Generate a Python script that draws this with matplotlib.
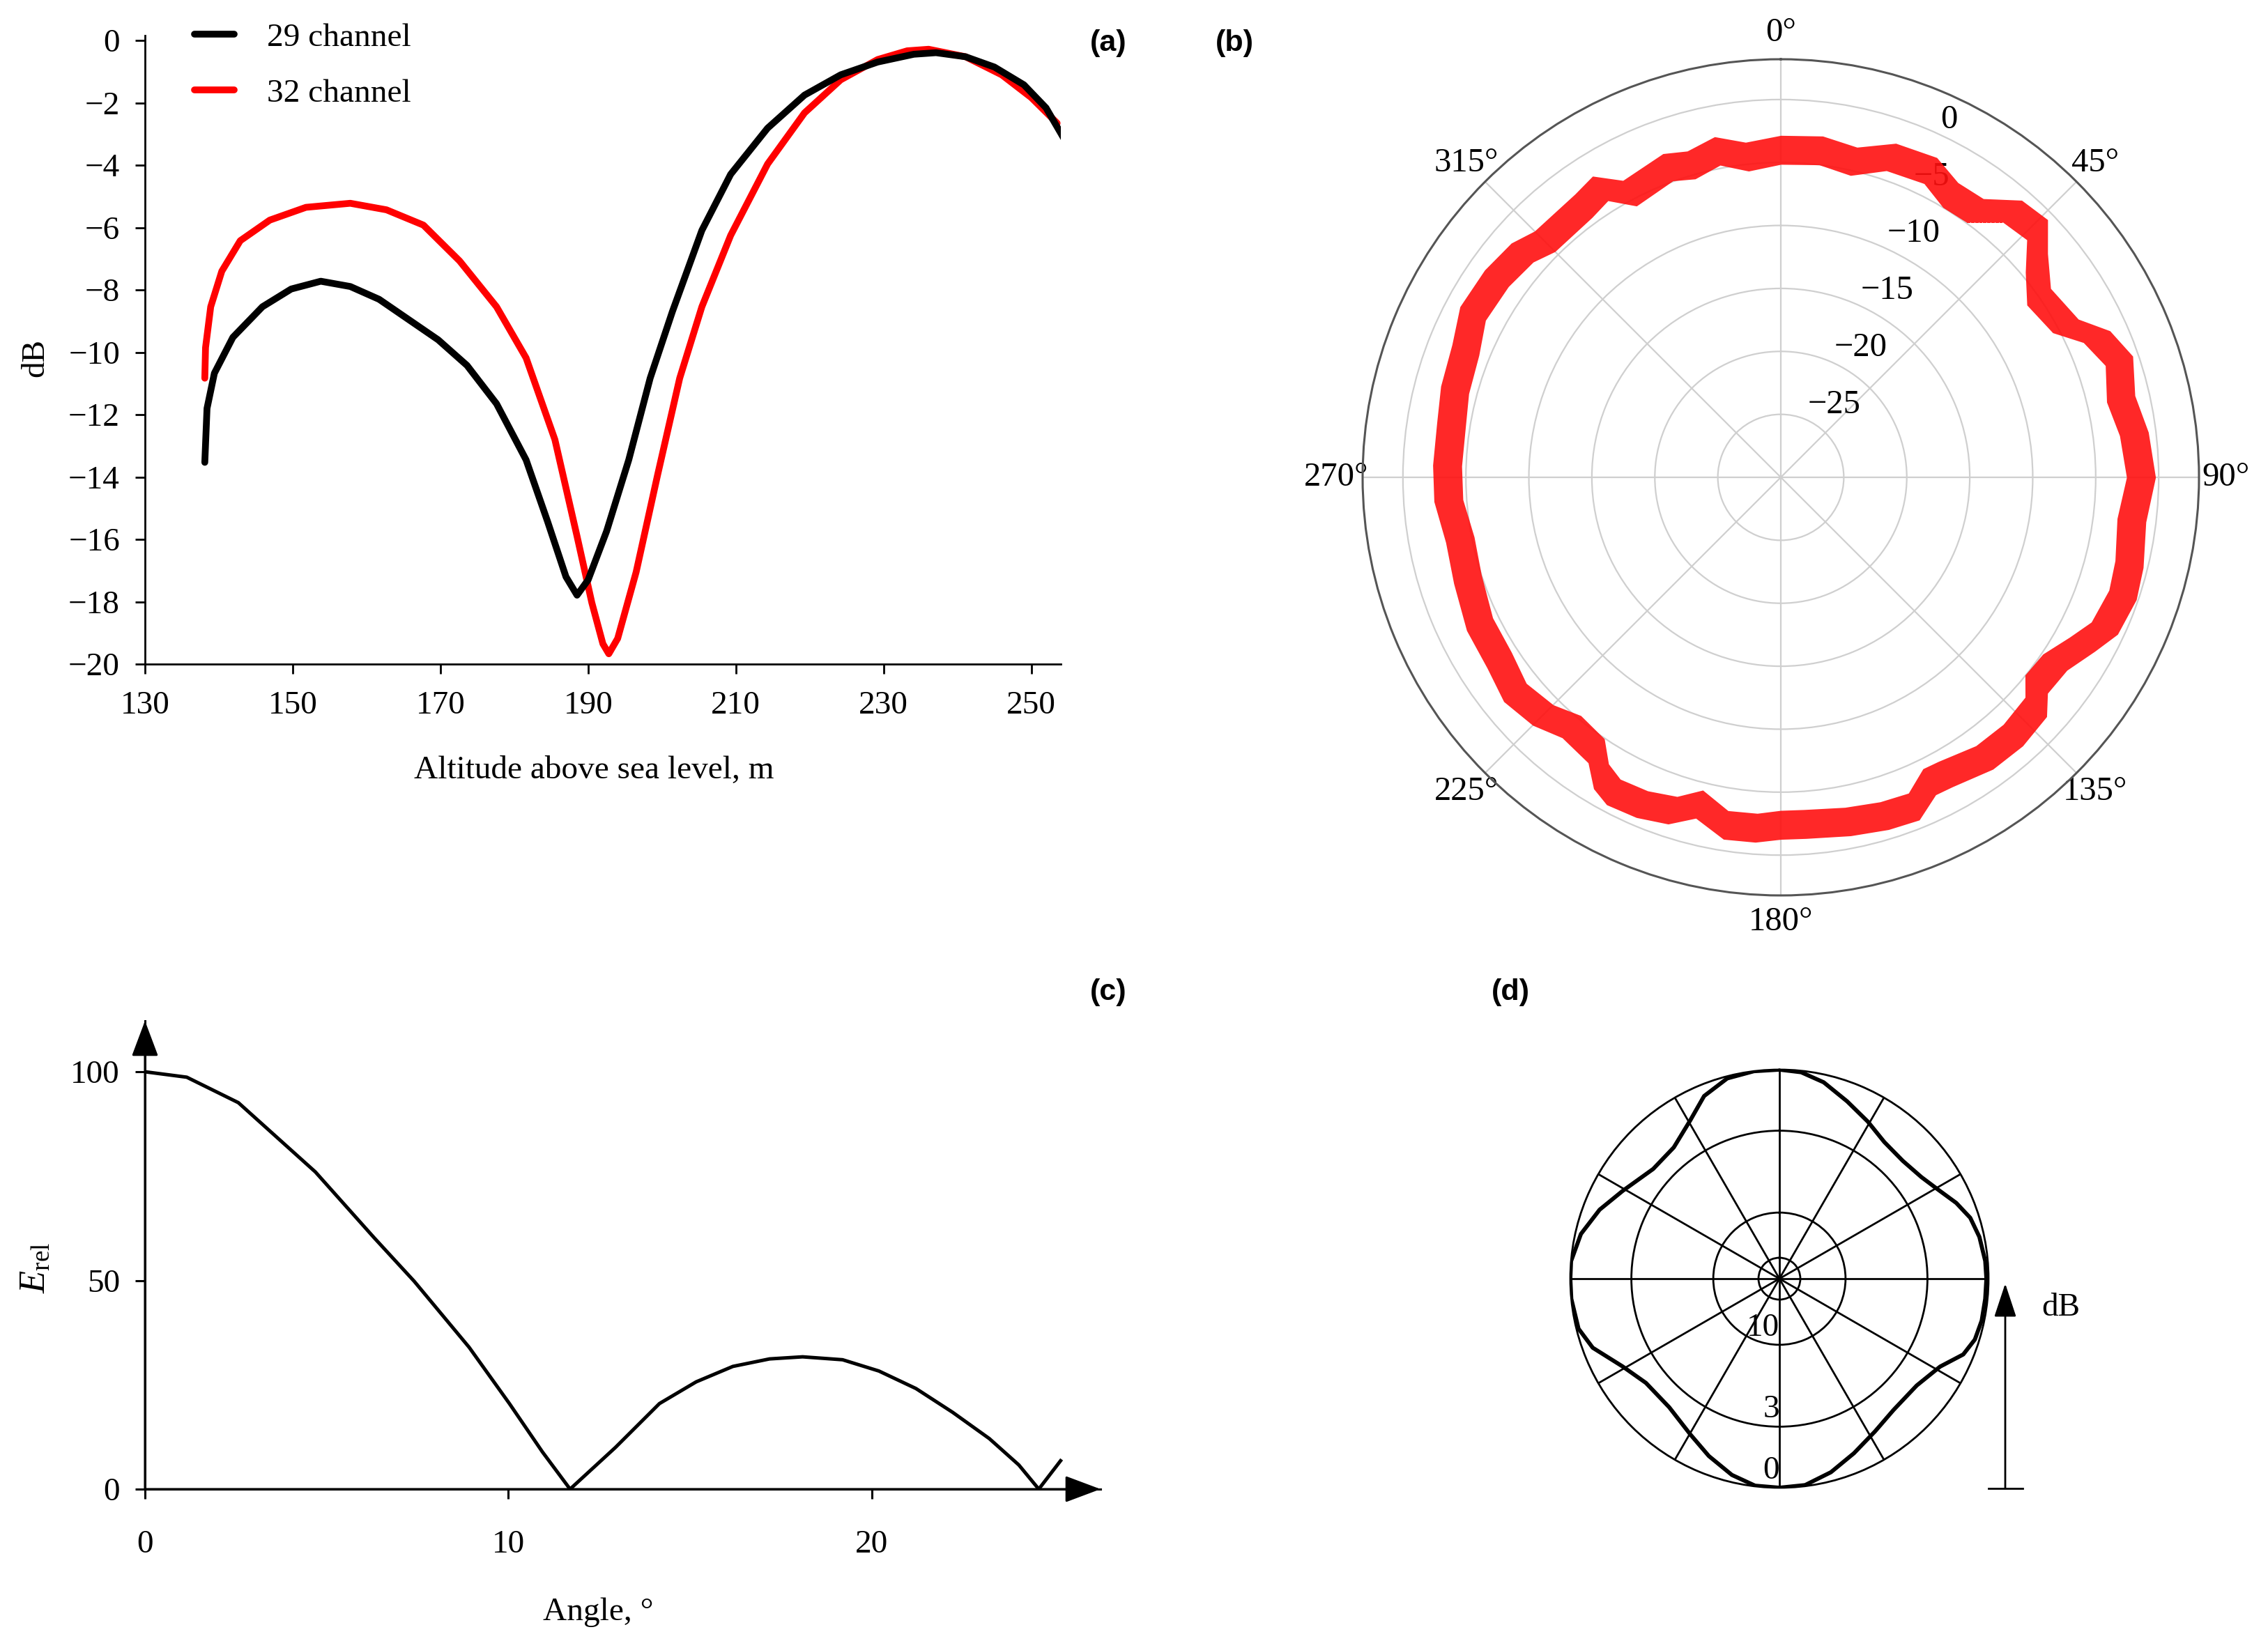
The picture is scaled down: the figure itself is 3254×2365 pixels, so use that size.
import numpy as np
import matplotlib
matplotlib.use('Agg')
import matplotlib.pyplot as plt

plt.rcParams['font.family'] = ['Liberation Serif', 'DejaVu Serif']
plt.rcParams['mathtext.fontset'] = 'custom'
plt.rcParams['mathtext.rm'] = 'Liberation Serif'
plt.rcParams['mathtext.it'] = 'Liberation Serif:italic'
plt.rcParams['mathtext.bf'] = 'Liberation Serif:bold'
plt.rcParams['axes.unicode_minus'] = True

# ---------------- data ----------------
# (a) signal level vs altitude
alt_29 = [138.1, 138.4, 139.4, 141.9, 145.9, 149.8, 153.8, 157.8, 161.7, 165.7, 169.7,
          173.6, 177.6, 181.6, 184.5, 187.0, 188.5, 190.0, 192.5, 195.5, 198.4, 201.4,
          205.4, 209.3, 214.3, 219.3, 224.2, 229.2, 234.1, 237.1, 241.1, 245.0, 249.0,
          252.0, 254.8]
db_29 = [-13.53, -11.8, -10.67, -9.52, -8.54, -7.97, -7.72, -7.89, -8.3, -8.95, -9.6,
         -10.42, -11.65, -13.45, -15.42, -17.2, -17.79, -17.3, -15.74, -13.45, -10.83, -8.7,
         -6.09, -4.29, -2.81, -1.75, -1.1, -0.69, -0.44, -0.39, -0.52, -0.85, -1.42,
         -2.16, -3.3]
alt_32 = [138.1, 138.2, 138.9, 140.4, 142.9, 146.9, 151.8, 157.8, 162.7, 167.7, 172.6,
          177.6, 181.6, 185.5, 188.5, 190.5, 192.0, 192.8, 194.0, 196.5, 199.4, 202.4,
          205.4, 209.3, 214.3, 219.3, 224.2, 229.2, 233.2, 236.1, 241.1, 246.0, 250.0,
          253.5]
db_32 = [-10.83, -9.85, -8.54, -7.4, -6.42, -5.76, -5.35, -5.22, -5.43, -5.92, -7.07,
         -8.54, -10.18, -12.8, -15.9, -18.03, -19.35, -19.67, -19.18, -17.05, -13.94, -10.83,
         -8.54, -6.25, -3.96, -2.32, -1.26, -0.61, -0.33, -0.28, -0.52, -1.1, -1.83,
         -2.65]
a_xticks = [130, 150, 170, 190, 210, 230, 250]
a_yticks = [0, -2, -4, -6, -8, -10, -12, -14, -16, -18, -20]

# (b) measured azimuth pattern (band centre, dB)
az_deg = [0, 7, 13, 19, 26, 31, 36, 41, 46, 50, 55, 62, 66, 71, 77, 83, 90, 97, 104, 109,
          115, 119, 124, 129, 132, 138, 144, 151, 154, 158, 163, 169, 176, 180, 184, 189,
          194, 198, 203, 208, 211, 214, 220, 225, 231, 237, 244, 252, 259, 266, 272, 279,
          285, 292, 298, 305, 311, 315, 324, 328, 332, 340, 344, 349, 354, 360]
level_db = [-4.0, -3.85, -4.25, -3.1, -2.9, -3.85, -3.8, -2.0, -1.7, -3.5, -5.0, -4.4, -2.55,
            -1.6, -2.3, -1.75, -1.4, -1.95, -1.5, -1.3, -1.65, -2.65, -3.75, -3.9, -2.75,
            -2.45, -2.5, -3.05, -3.1, -1.8, -1.9, -2.15, -2.4, -2.4, -2.1, -2.05, -3.25,
            -2.2, -1.8, -1.7, -2.3, -3.8, -4.15, -3.3, -2.85, -3.35, -3.4, -3.85, -4.05,
            -3.55, -3.5, -3.5, -3.2, -3.0, -2.3, -2.45, -2.8, -3.5, -3.35, -2.95, -4.45,
            -3.8, -4.2, -3.6, -4.4, -4.0]
band_half_width_db = 1.15
b_rings = [-25, -20, -15, -10, -5, 0]
b_theta_ticks = [0, 45, 90, 135, 180, 225, 270, 315]

# (c) relative field vs angle
angle_c = [0, 1.15, 2.57, 4.69, 6.3, 7.41, 8.92, 10.03, 10.94, 11.7, 12.95, 14.16, 15.17,
           16.18, 17.19, 18.1, 19.2, 20.2, 21.22, 22.23, 23.24, 24.05, 24.6, 25.2]
erel_c = [100, 98.7, 92.6, 76.0, 60.3, 49.8, 34.0, 20.5, 8.9, 0, 10.0, 20.5, 25.7,
          29.4, 31.2, 31.7, 31.0, 28.3, 24.1, 18.4, 12.1, 5.8, 0, 6.8]
c_xticks = [0, 10, 20]
c_yticks = [0, 50, 100]

# (d) antenna pattern (relative amplitude)
pattern_deg = [0, 6, 12.7, 20.9, 29.4, 37.5, 46.3, 54.4, 60.5, 66.8, 72.3, 78.2, 85.1, 90,
               95.6, 101.7, 107.3, 112.4, 118.7, 127.9, 139, 148, 156.9, 165.1, 172.9, 180,
               186.7, 193.6, 201.7, 209.8, 220.6, 232, 240.7, 249.7, 256, 264.5, 270, 274.8,
               282.7, 291, 299.3, 311, 321.2, 330.6, 337.6, 345.4, 353, 360]
pattern_amp = [1.0, 0.993, 0.963, 0.908, 0.862, 0.824, 0.816, 0.835, 0.869, 0.92, 0.958,
               0.977, 0.988, 0.99, 0.989, 0.988, 0.979, 0.951, 0.876, 0.832, 0.832, 0.862,
               0.908, 0.958, 0.995, 1.0, 0.997, 0.966, 0.913, 0.858, 0.81, 0.81, 0.859, 0.952,
               0.99, 1.0, 1.0, 1.0, 0.973, 0.921, 0.859, 0.8, 0.806, 0.869, 0.945, 0.99, 1.0,
               1.0]
d_ring_db = [20, 10, 3]
d_ring_labels = ['10', '3', '0']
d_label_db = [10, 3, 0]

# ---------------- figure ----------------
W, H = 3255, 2365
fig = plt.figure(figsize=(W / 100, H / 100), dpi=100, facecolor='white')

def box(x0, y0, x1, y1):
    return [x0 / W, 1 - y1 / H, (x1 - x0) / W, (y1 - y0) / H]

FS = 34
FSB = 35
FS2 = 34

# ---- (a)
axa = fig.add_axes(box(208, 51, 1522, 953))
axa.plot(alt_32, db_32, color='#ff0000', lw=7, solid_capstyle='round',
         solid_joinstyle='round', label='32 channel', zorder=2)
axa.plot(alt_29, db_29, color='black', lw=7, solid_capstyle='round',
         solid_joinstyle='round', label='29 channel', zorder=3)
axa.set_xlim(130, 254)
axa.set_ylim(-20, 0.16)
axa.set_xticks(a_xticks)
axa.set_yticks(a_yticks)
for s in ['top', 'right']:
    axa.spines[s].set_visible(False)
for s in ['left', 'bottom']:
    axa.spines[s].set_linewidth(2)
axa.tick_params(direction='out', length=10, width=2, labelsize=FS)
axa.tick_params(axis='y', pad=16)
axa.tick_params(axis='x', pad=18)
axa.set_xlabel('Altitude above sea level, m', fontsize=FS)
axa.set_ylabel('dB', fontsize=FS)
axa.xaxis.set_label_coords(0.4906, -0.146)
axa.yaxis.set_label_coords(-0.1035, 0.487)
h, l = axa.get_legend_handles_labels()
axa.legend([h[1], h[0]], [l[1], l[0]], loc='upper left', bbox_to_anchor=(0.054, 1.020),
           frameon=False, fontsize=FS, handlelength=1.2, handletextpad=1.0,
           labelspacing=0.78, borderpad=0, borderaxespad=0)

# ---- (b)
axb = fig.add_axes(box(1955, 85, 3155, 1285), projection='polar')
axb.set_theta_zero_location('N')
axb.set_theta_direction(-1)
axb.set_rlim(-30, 3.2)
theta_b = np.deg2rad(az_deg)
lvl = np.array(level_db)
axb.fill_between(theta_b, lvl - band_half_width_db, lvl + band_half_width_db,
                 color='#ff1010', alpha=0.9, lw=0, zorder=3)
axb.set_rgrids(b_rings, labels=[str(v).replace('-', '\u2212') for v in b_rings],
               angle=25, fontsize=FSB)
axb.set_thetagrids(b_theta_ticks, labels=[f'{t}\u00b0' for t in b_theta_ticks], fontsize=FSB)
axb.tick_params(axis='x', pad=17)
axb.grid(True, color='#cfcfcf', lw=1.6)
axb.set_axisbelow(True)
axb.spines['polar'].set_color('#555555')
axb.spines['polar'].set_linewidth(2.2)

# ---- (c)
axc = fig.add_axes(box(208, 1465, 1579, 2137))
axc.plot(angle_c, erel_c, color='black', lw=3.6, solid_joinstyle='round')
axc.set_xlim(0, 26.3)
axc.set_ylim(0, 112.2)
axc.set_xticks(c_xticks)
axc.set_yticks(c_yticks)
for s in ['top', 'right']:
    axc.spines[s].set_visible(False)
for s in ['left', 'bottom']:
    axc.spines[s].set_linewidth(2.2)
axc.tick_params(direction='out', length=10, width=2.2, labelsize=FS2)
axc.tick_params(axis='y', pad=16)
axc.tick_params(axis='x', pad=32)
arrow_style = '-|>,head_length=0.8,head_width=0.3'
axc.annotate('', xy=(1, 0), xytext=(0, 0), xycoords='axes fraction',
             arrowprops=dict(arrowstyle=arrow_style, mutation_scale=40, lw=2.2, color='black',
                             shrinkA=0, shrinkB=0), annotation_clip=False)
axc.annotate('', xy=(0, 1), xytext=(0, 0), xycoords='axes fraction',
             arrowprops=dict(arrowstyle=arrow_style, mutation_scale=40, lw=2.2, color='black',
                             shrinkA=0, shrinkB=0), annotation_clip=False)
axc.set_xlabel('Angle, \u00b0', fontsize=FS2)
axc.set_ylabel(r'$E_{\mathrm{rel}}$', fontsize=FS2 + 4)
axc.xaxis.set_label_coords(0.474, -0.232)
axc.yaxis.set_label_coords(-0.097, 0.472)

# ---- (d)
axd = fig.add_axes(box(2253, 1535, 2853, 2135), projection='polar')
axd.set_theta_zero_location('N')
axd.set_theta_direction(-1)
axd.set_rlim(0, 1)
ring_r = [10 ** (-v / 20) for v in d_ring_db]
axd.set_rgrids(ring_r, labels=['' for _ in ring_r])
axd.set_thetagrids(list(range(0, 360, 30)), labels=['' for _ in range(12)])
axd.grid(True, color='black', lw=2.0)
axd.spines['polar'].set_color('black')
axd.spines['polar'].set_linewidth(2.0)
axd.plot(np.deg2rad(pattern_deg), pattern_amp, color='black', lw=4.2, zorder=4,
         solid_joinstyle='round')
for lab, v in zip(d_ring_labels, d_label_db):
    axd.text(np.pi, 10 ** (-v / 20) - 0.01, lab, ha='right', va='bottom', fontsize=FS2)

# ---- overlay (panel letters, dB arrow)
ov = fig.add_axes([0, 0, 1, 1], zorder=-1)
ov.set_xlim(0, W)
ov.set_ylim(H, 0)
ov.axis('off')
for txt, x, y in [('(a)', 1590, 62), ('(b)', 1771, 62), ('(c)', 1590, 1424), ('(d)', 2167, 1424)]:
    ov.text(x, y, txt, fontfamily='Liberation Sans', fontweight='bold', fontsize=31,
            ha='center', va='center')
ov.annotate('', xy=(2877, 1842), xytext=(2877, 2136), xycoords='data',
            arrowprops=dict(arrowstyle='-|>,head_length=1.0,head_width=0.33', mutation_scale=30,
                            lw=2, color='black', shrinkA=0, shrinkB=0))
ov.plot([2853, 2902], [2136, 2136], color='black', lw=2)
ov.text(2929, 1877, 'dB', ha='left', va='center', fontsize=FS2)

fig.savefig('out.png', dpi=100, facecolor='white')
